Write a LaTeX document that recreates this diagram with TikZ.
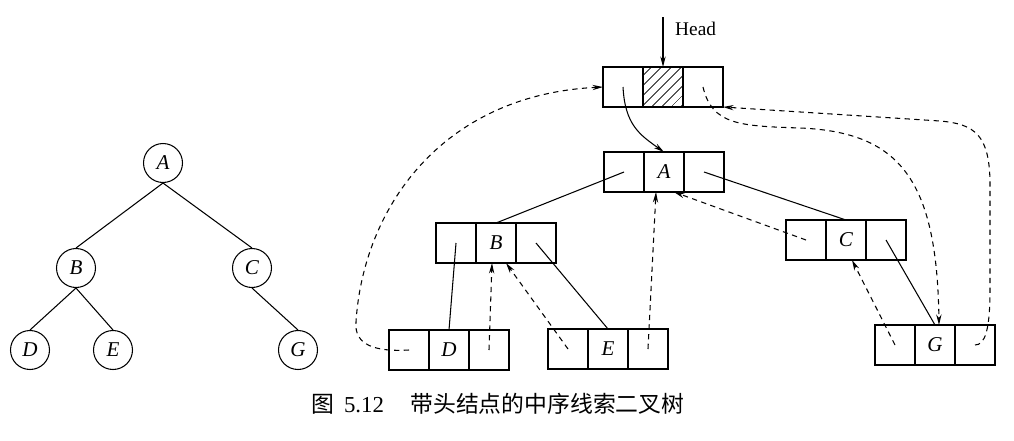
\documentclass[tikz,border=0pt]{standalone}
\usepackage{fontspec}
\setmainfont{Liberation Serif}
\newfontfamily\cjk{Noto Sans CJK SC}
\usetikzlibrary{arrows.meta,patterns.meta,calc}
\begin{document}
\begin{tikzpicture}[x=0.02cm,y=-0.02cm,
  circ/.style={draw,circle,minimum size=0.78cm,inner sep=0pt,line width=0.6pt,font=\fontsize{12}{14}\selectfont\itshape},
  cell/.style={draw,rectangle,minimum width=0.8cm,minimum height=0.8cm,inner sep=0pt,outer sep=0pt,line width=0.6pt,font=\fontsize{12}{14}\selectfont\itshape},
  hatch/.style={pattern={Lines[angle=45,distance=4pt,line width=0.5pt]}},
  link/.style={line width=0.6pt},
  thread/.style={line width=0.6pt,dash pattern=on 3pt off 2.5pt},
  tip/.style={-{Stealth[length=6pt,width=3pt]}},
]
\useasboundingbox (0,0) rectangle (1014,440);

% left tree
\node[circ] (tA) at (163,163) {A};
\node[circ] (tB) at (76,268) {B};
\node[circ] (tC) at (252,268) {C};
\node[circ] (tD) at (30,350) {D};
\node[circ] (tE) at (113,350) {E};
\node[circ] (tG) at (298,350) {G};
\draw[link] (tA.south) -- (tB.north);
\draw[link] (tA.south) -- (tC.north);
\draw[link] (tB.south) -- (tD.north);
\draw[link] (tB.south) -- (tE.north);
\draw[link] (tC.south) -- (tG.north);

% threaded list
\node[cell,hatch] (Hm) at (663,87) {};
\node[cell,anchor=east] (Hl) at (Hm.west) {};
\node[cell,anchor=west] (Hr) at (Hm.east) {};

\node[cell] (Am) at (664,172) {A};
\node[cell,anchor=east] (Al) at (Am.west) {};
\node[cell,anchor=west] (Ar) at (Am.east) {};

\node[cell] (Bm) at (496,243) {B};
\node[cell,anchor=east] (Bl) at (Bm.west) {};
\node[cell,anchor=west] (Br) at (Bm.east) {};

\node[cell] (Cm) at (846,240) {C};
\node[cell,anchor=east] (Cl) at (Cm.west) {};
\node[cell,anchor=west] (Cr) at (Cm.east) {};

\node[cell] (Dm) at (449,350) {D};
\node[cell,anchor=east] (Dl) at (Dm.west) {};
\node[cell,anchor=west] (Dr) at (Dm.east) {};

\node[cell] (Em) at (608,349) {E};
\node[cell,anchor=east] (El) at (Em.west) {};
\node[cell,anchor=west] (Er) at (Em.east) {};

\node[cell] (Gm) at (935,345) {G};
\node[cell,anchor=east] (Gl) at (Gm.west) {};
\node[cell,anchor=west] (Gr) at (Gm.east) {};

% head pointer
\node[anchor=west,font=\fontsize{11}{13}\selectfont] (headlbl) at (669,29) {Head};
\coordinate (headtop) at (663,17);
\draw[link,tip] (headtop) -- (Hm.north);

% child links
\draw[link,tip] (Hl.center) .. controls (625,125) and (640,135) .. (Am.north);
\draw[link] (Al.center) -- (Bm.north);
\draw[link] (Ar.center) -- (Cm.north);
\draw[link] (Bl.center) -- (Dm.north);
\draw[link] (Br.center) -- (Em.north);
\draw[link] (Cr.center) -- (Gm.north);

% threads
\draw[thread,tip] (Dr.center) -- ($(Bm.south)+(-4,0)$);
\draw[thread,tip] (El.center) -- ($(Bm.south)!0.5!(Bm.south east)$);
\draw[thread,tip] (Er.center) -- ($(Am.south west)!0.3!(Am.south east)$);
\draw[thread,tip] (Cl.center) -- ($(Am.south west)!0.75!(Am.south east)$);
\draw[thread,tip] (Gl.center) -- ($(Cm.south west)!0.65!(Cm.south east)$);
\draw[thread,tip] (Hr.center) .. controls (712,125) and (740,126) .. (800,128)
  .. controls (900,132) and (937,180) .. ($(Gm.north)+(4,0)$);
\draw[thread,tip] (Gr.center) .. controls (985,345) and (990,330) .. (990,290)
  -- (990,185) .. controls (990,135) and (975,124) .. (940,121)
  -- (Hr.south east);
\draw[thread,tip] (Dl.center) .. controls (375,352) and (354,345) .. (356,322)
  .. controls (363,210) and (440,95) .. (Hl.west);

% caption
\node[font=\cjk\fontsize{13}{15}\selectfont] (capfig) at (323,404) {图};
\node[font=\fontsize{13}{15}\selectfont] (capnum) at (364,405) {5.12};
\node[anchor=west,inner sep=0pt,font=\cjk\fontsize{13}{15}\selectfont] (captext) at (410,404) {带头结点的中序线索二叉树};
\end{tikzpicture}
\end{document}
